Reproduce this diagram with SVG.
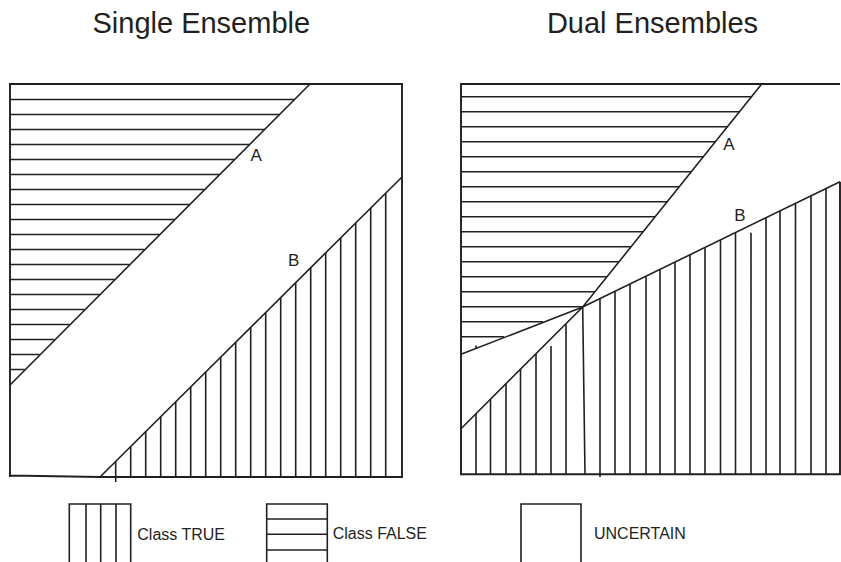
<svg xmlns="http://www.w3.org/2000/svg" width="841" height="562" viewBox="0 0 841 562">
<style>
.ln{stroke:#231f20;stroke-width:1.6;fill:none;stroke-linecap:butt}
.bx{stroke:#231f20;stroke-width:1.9;fill:none}
.t{font-family:"Liberation Sans",Arial,sans-serif;fill:#231f20}
.title{font-size:29px;text-anchor:middle}
.lab{font-size:17px}
.leg{font-size:16px}
</style>
<rect width="841" height="562" fill="#ffffff"/>
<g id="titles">
<text class="t title" x="201.3" y="33">Single Ensemble</text>
<text class="t title" x="652.5" y="33">Dual Ensembles</text>
</g>
<g id="single-ensemble">
<path class="bx" d="M10,477 L10,84 L402,84 L402,477 L100,477 M10,475.5 L100,477"/>
<path class="ln" d="M310,84 L10,385 M402,177 L100,477"/>
<path class="ln" d="M10,99.5H294.5M10,114.5H279.5M10,129.5H264.5M10,144.5H249.5M10,159.5H234.5M10,174.5H219.5M10,189.5H204.5M10,204.5H189.5M10,219.5H174.5M10,234.5H159.5M10,249.5H144.5M10,264.5H129.5M10,279.5H114.5M10,294.5H99.5M10,309.5H84.5M10,324.5H69.5M10,339.5H54.5M10,354.5H39.5M10,369.5H24.8"/>
<path class="ln" d="M115.7,461.4V482M130.7,446.5V477M145.7,431.6V477M160.7,416.7V477M175.7,401.8V477M190.7,386.9V477M205.7,372V477M220.7,357.1V477M235.7,342.2V477M250.7,327.3V477M265.7,312.4V477M280.7,297.5V477M295.7,282.6V477M310.7,267.7V477M325.7,252.8V477M340.7,237.9V477M355.7,223V477M370.7,208.1V477M385.7,193.2V477"/>
<text class="t lab" x="250.5" y="161">A</text>
<text class="t lab" x="288" y="266">B</text>
</g>
<g id="dual-ensembles">
<path class="bx" d="M840,181.7 L840,474.3 L461,474.3 L461,84 L840,84"/>
<path class="ln" d="M761.7,84 L582.7,307 L461,428.7 M840,181.7 L582.7,307 L461,354.3"/>
<path class="ln" d="M461,96.8H751.4M461,111.8H739.4M461,126.8H727.3M461,141.8H715.3M461,156.8H703.3M461,171.8H691.2M461,186.8H679.2M461,201.8H667.1M461,216.8H655.1M461,231.8H643.1M461,246.8H631M461,261.8H619M461,276.8H606.9M461,291.8H594.9M461,306.8H582.9M461,321.8H543M461,336.8H504"/>
<path class="ln" d="M476,413.7V474.3M490.5,399.2V474.3M506,383.7V474.3M520.5,369.2V474.3M536,353.7V474.3M551,346V474.3M566,324.5V474.3M582.7,307L585,474.3M600,298.6V477M615,291.3V474.3M630,284V474.3M646,276.2V474.3M660,269.4V474.3M675,262V474.3M690,254.7V474.3M705,247.4V474.3M720.5,239.9V474.3M735.5,232.6V474.3M751,232.7V474.3M766,217.7V474.3M780,210.9V474.3M795.5,203.4V474.3M811,195.8V474.3M826,188.5V474.3M476,345.5V349"/>
<text class="t lab" x="723.3" y="150">A</text>
<text class="t lab" x="734.3" y="221">B</text>
</g>
<g id="legend-true">
<path class="ln" d="M69.3,562V504H130.7V562M86,504V562M100.7,504V562M116,504V562"/>
<text class="t leg" x="137.3" y="540">Class TRUE</text>
</g>
<g id="legend-false">
<path class="ln" d="M266.7,562V504H327.3V562M266.7,519H327.3M266.7,534.3H327.3M266.7,550H327.3"/>
<text class="t leg" x="332.7" y="539">Class FALSE</text>
</g>
<g id="legend-uncertain">
<path class="ln" d="M521,562V504H581V562"/>
<text class="t leg" x="594" y="539">UNCERTAIN</text>
</g>
</svg>
